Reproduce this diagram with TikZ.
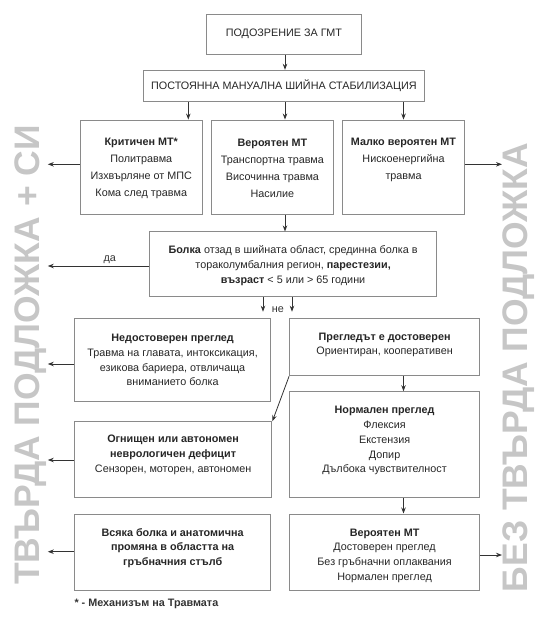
\documentclass[tikz,border=0pt]{standalone}
\usepackage{fontspec}
\setmainfont{Liberation Sans}
\usetikzlibrary{arrows.meta,calc}
\definecolor{boxgray}{HTML}{8A8A8A}
\definecolor{linegray}{HTML}{333333}
\definecolor{sidegray}{HTML}{C6C6C6}
\newcommand{\bodyfont}{\fontsize{10.8}{14.7}\selectfont}
\newcommand{\topfont}{\fontsize{10.8}{17}\selectfont}
\newcommand{\sidesize}{\fontsize{35.5}{35.5}\selectfont}
\tikzset{
  box/.style={draw=boxgray, line width=1pt, inner sep=0pt},
  txt/.style={align=center, inner sep=0pt, text=black!85, font=\bodyfont},
  toptxt/.style={align=center, inner sep=0pt, text=black!85, font=\topfont},
  arr/.style={draw=linegray, line width=0.8pt, -{Stealth[length=6pt,width=4.5pt]}},
  sidetxt/.style={rotate=90, text=sidegray, font=\sidesize, inner sep=0pt},
  lbl/.style={inner sep=0pt, text=linegray, font=\bodyfont}
}
\begin{document}
\begin{tikzpicture}[x=1pt,y=-1pt]
\useasboundingbox (0,0) rectangle (555,626);
% side texts
\node[sidetxt] (sideL) at (31,355) {\textbf{ТВЪРДА ПОДЛОЖКА + СИ}};
\node[sidetxt] (sideR) at (519,367.5) {\textbf{БЕЗ ТВЪРДА ПОДЛОЖКА}};
% boxes
\node[box, minimum width=155, minimum height=39.7] (top) at (283.9,34.2) {};
\node[txt] (topT) at (top) {ПОДОЗРЕНИЕ ЗА ГМТ};
\node[box, minimum width=281, minimum height=31.4] (stab) at (283.9,86) {};
\node[txt] (stabT) at (stab) {ПОСТОЯННА МАНУАЛНА ШИЙНА СТАБИЛИЗАЦИЯ};
\node[box, minimum width=122.5, minimum height=94.3] (krit) at (141.25,167.2) {};
\node[toptxt] (kritT) at ([yshift=-1]krit.center) {\textbf{Критичен МТ*}\\Политравма\\Изхвърляне от МПС\\Кома след травма};
\node[box, minimum width=122.2, minimum height=94.3] (ver) at (272.4,167.2) {};
\node[toptxt] (verT) at ([yshift=-1]ver.center) {\textbf{Вероятен МТ}\\Транспортна травма\\Височинна травма\\Насилие};
\node[box, minimum width=122.5, minimum height=94.3] (malko) at (403.5,167.2) {};
\node[toptxt, anchor=north] (malkoT) at ([yshift=-18.5]malko.north) {\textbf{Малко вероятен МТ}\\Нискоенергийна\\травма};
\node[box, minimum width=286.8, minimum height=64.7] (pain) at (293.1,264.3) {};
\node[txt] (painT) at ([yshift=-1.5]pain.center) {\textbf{Болка} отзад в шийната област, срединна болка в\\тораколумбалния регион, \textbf{парестезии,}\\\textbf{възраст} < 5 или > 65 години};
\node[box, minimum width=196.5, minimum height=82.7] (ned) at (172.6,359.7) {};
\node[txt] (nedT) at ([yshift=-0.5]ned.center) {\textbf{Недостоверен преглед}\\Травма на главата, интоксикация,\\езикова бариера, отвличаща\\вниманието болка};
\node[box, minimum width=190, minimum height=57.4] (pre) at (384.6,347) {};
\node[txt] (preT) at ([yshift=2]pre.center) {\textbf{Прегледът е достоверен}\\Ориентиран, кооперативен};
\node[box, minimum width=190, minimum height=106] (norm) at (384.6,444.7) {};
\node[txt] (normT) at ([yshift=4]norm.center) {\textbf{Нормален преглед}\\Флексия\\Екстензия\\Допир\\Дълбока чувствителност};
\node[box, minimum width=197.6, minimum height=76] (ogn) at (173.1,459.7) {};
\node[txt] (ognT) at ([yshift=5]ogn.center) {\textbf{Огнищен или автономен}\\\textbf{неврологичен дефицит}\\Сензорен, моторен, автономен};
\node[box, minimum width=196.5, minimum height=76] (vsy) at (172.6,552) {};
\node[txt] (vsyT) at ([yshift=4]vsy.center) {\textbf{Всяка болка и анатомична}\\\textbf{промяна в областта на}\\\textbf{гръбначния стълб}};
\node[box, minimum width=190, minimum height=76] (ver2) at (384.6,552) {};
\node[txt] (ver2T) at ([yshift=-3.5]ver2.center) {\textbf{Вероятен МТ}\\Достоверен преглед\\Без гръбначни оплаквания\\Нормален преглед};
\node[lbl, anchor=west, font=\bodyfont\bfseries] (foot) at (74.3,604.3) {* - Механизъм на Травмата};
% helper coordinates
\coordinate (L) at (47.8,0);
\coordinate (R) at (502,0);
\coordinate (xa) at (188.3,0);
\coordinate (xb) at (285,0);
\coordinate (xc) at (403.5,0);
\coordinate (ya) at (0,164.3);
\coordinate (n1) at (263,311.7);
\coordinate (n2) at (292,311.7);
% connectors
\draw[arr] (top.south -| xb) -- (stab.north -| xb);
\draw[arr] (stab.south -| xa) -- (krit.north -| xa);
\draw[arr] (stab.south -| xb) -- (ver.north -| xb);
\draw[arr] (stab.south -| xc) -- (malko.north -| xc);
\draw[arr] (ver.south -| xb) -- (pain.north -| xb);
\draw[arr] (krit.west |- ya) -- (L |- ya);
\draw[arr] (malko.east |- ya) -- (R |- ya);
\draw[arr] (pain.west |- 0,266) -- (L |- 0,266);
\node[lbl] (da) at (109.7,260) {да};
\draw[arr] (pain.south -| n1) -- (n1);
\draw[arr] (pain.south -| n2) -- (n2);
\node[lbl] (ne) at (277.9,310) {не};
\draw[arr] (ned.west |- 0,364) -- (L |- 0,364);
\draw[arr] (pre.south -| xc) -- (norm.north -| xc);
\draw[arr] (pre.south west) -- (ogn.north east);
\draw[arr] (ogn.west |- 0,460) -- (L |- 0,460);
\draw[arr] (norm.south -| xc) -- (ver2.north -| xc);
\draw[arr] (vsy.west |- 0,551.7) -- (L |- 0,551.7);
\draw[arr] (ver2.east |- 0,555) -- (R |- 0,555);
\end{tikzpicture}
\end{document}
